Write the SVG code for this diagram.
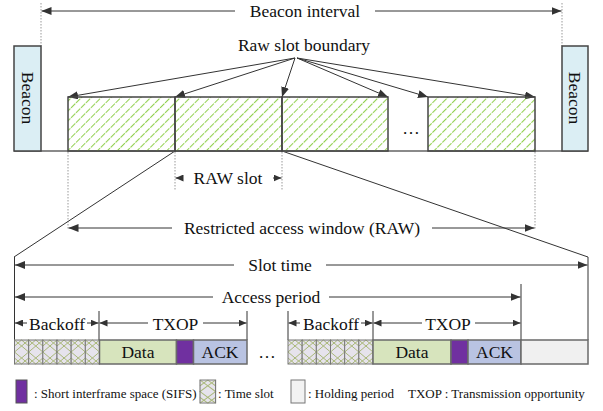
<svg xmlns="http://www.w3.org/2000/svg" width="603" height="411" viewBox="0 0 603 411">
<defs>
<style>
text{font-family:"Liberation Serif","Times New Roman",serif;fill:#111;}
.t{font-size:17.5px;text-anchor:middle;}
.lg{font-size:13px;}
.ln{stroke:#333;stroke-width:1;fill:none;}
.dot{stroke:#999;stroke-width:1;stroke-dasharray:1.5 1.5;fill:none;}
.box{stroke:#444;stroke-width:1.5;}
.row{stroke:#6a6a6a;stroke-width:1.5;}
</style>
<marker id="ah" markerUnits="userSpaceOnUse" markerWidth="10" markerHeight="8" refX="10" refY="4" orient="auto"><path d="M0,0 L10,4 L0,8 z" fill="#333"/></marker>
<marker id="as" markerUnits="userSpaceOnUse" markerWidth="8" markerHeight="7" refX="8" refY="3.5" orient="auto"><path d="M0,0 L8,3.5 L0,7 z" fill="#333"/></marker>
<pattern id="hatch" patternUnits="userSpaceOnUse" width="7" height="7" patternTransform="rotate(45)"><line x1="0.5" y1="0" x2="0.5" y2="7" stroke="#92d050" stroke-width="1.1" stroke-dasharray="5 1"/></pattern>
<g id="cell"><rect x="0" y="0" width="14.17" height="24" fill="#e6e3ec"/><path d="M0,0 L14.17,12 L0,24 M14.17,0 L0,12 L14.17,24 M7.08,0 L0,6 M7.08,0 L14.17,6 M7.08,24 L0,18 M7.08,24 L14.17,18" stroke="#a9b878" stroke-width="1" fill="none"/><rect x="0" y="0" width="14.17" height="24" fill="none" stroke="#777" stroke-width="1"/></g>
</defs>
<rect width="603" height="411" fill="#fff"/>

<g id="connectors">
<line class="dot" x1="41" y1="3" x2="41" y2="46"/>
<line class="dot" x1="562" y1="3" x2="562" y2="46"/>
<line class="ln" x1="235" y1="11" x2="41.5" y2="11" marker-end="url(#ah)"/>
<line class="ln" x1="375" y1="11" x2="561.5" y2="11" marker-end="url(#ah)"/>

<line class="ln" x1="295" y1="58" x2="68" y2="97" marker-end="url(#ah)"/>
<line class="ln" x1="295" y1="58" x2="175" y2="97" marker-end="url(#ah)"/>
<line class="ln" x1="295" y1="58" x2="282" y2="97" marker-end="url(#ah)"/>
<line class="ln" x1="297" y1="58" x2="388" y2="97" marker-end="url(#ah)"/>
<line class="ln" x1="297" y1="58" x2="428" y2="97" marker-end="url(#ah)"/>
<line class="ln" x1="297" y1="58" x2="535" y2="97" marker-end="url(#ah)"/>

<line class="dot" x1="68" y1="152" x2="68" y2="229"/>
<line class="dot" x1="175" y1="152" x2="175" y2="190"/>
<line class="dot" x1="282" y1="152" x2="282" y2="190"/>
<line class="dot" x1="535" y1="152" x2="535" y2="229"/>
<line class="ln" x1="183" y1="178" x2="175.5" y2="178" marker-end="url(#as)"/>
<line class="ln" x1="273" y1="178" x2="281.5" y2="178" marker-end="url(#as)"/>
<line class="ln" x1="172" y1="228" x2="68.5" y2="228" marker-end="url(#ah)"/>
<line class="ln" x1="432" y1="228" x2="534.5" y2="228" marker-end="url(#ah)"/>

<line class="ln" x1="175" y1="151" x2="14" y2="257"/>
<line class="ln" x1="282" y1="151" x2="588" y2="257"/>
<line class="ln" x1="14.5" y1="257" x2="14.5" y2="340"/>
<line class="ln" x1="588" y1="257" x2="588" y2="340"/>
<line class="ln" x1="234" y1="265" x2="15" y2="265" marker-end="url(#ah)"/>
<line class="ln" x1="326" y1="265" x2="587.5" y2="265" marker-end="url(#ah)"/>

<line class="ln" x1="521" y1="284" x2="521" y2="340"/>
<line class="ln" x1="213" y1="297" x2="15" y2="297" marker-end="url(#ah)"/>
<line class="ln" x1="329" y1="297" x2="520.5" y2="297" marker-end="url(#ah)"/>

<line class="ln" x1="99" y1="311" x2="99" y2="340"/>
<line class="ln" x1="247" y1="311" x2="247" y2="340"/>
<line class="ln" x1="288" y1="311" x2="288" y2="340"/>
<line class="ln" x1="373" y1="311" x2="373" y2="340"/>
<line class="ln" x1="27" y1="323" x2="15" y2="323" marker-end="url(#as)"/>
<line class="ln" x1="87" y1="323" x2="98.5" y2="323" marker-end="url(#as)"/>
<line class="ln" x1="148" y1="323" x2="99.5" y2="323" marker-end="url(#as)"/>
<line class="ln" x1="203" y1="323" x2="246.5" y2="323" marker-end="url(#as)"/>
<line class="ln" x1="300" y1="323" x2="288.5" y2="323" marker-end="url(#as)"/>
<line class="ln" x1="361" y1="323" x2="372.5" y2="323" marker-end="url(#as)"/>
<line class="ln" x1="422" y1="323" x2="373.5" y2="323" marker-end="url(#as)"/>
<line class="ln" x1="475" y1="323" x2="520.5" y2="323" marker-end="url(#as)"/>
</g>

<text class="t" x="305" y="17">Beacon interval</text>
<text class="t" x="304" y="51">Raw slot boundary</text>
<text class="t" x="228" y="184">RAW slot</text>
<text class="t" x="302" y="234">Restricted access window (RAW)</text>
<text class="t" x="280" y="271">Slot time</text>
<text class="t" x="271" y="303">Access period</text>
<text class="t" x="57" y="330">Backoff</text>
<text class="t" x="175.5" y="330">TXOP</text>
<text class="t" x="331" y="330">Backoff</text>
<text class="t" x="448" y="330">TXOP</text>

<g id="baseline"><line x1="14" y1="151" x2="588" y2="151" stroke="#8a8a8a" stroke-width="2"/></g>

<g id="beacon-left">
<rect class="box" x="14" y="46" width="27" height="105" fill="#dbeef4"/>
<text class="t" transform="translate(27.5,98) rotate(90)" dominant-baseline="central">Beacon</text>
</g>
<g id="beacon-right">
<rect class="box" x="562" y="46" width="26" height="105" fill="#dbeef4"/>
<text class="t" transform="translate(575,98) rotate(90)" dominant-baseline="central">Beacon</text>
</g>

<g id="raw-slot-1"><rect class="box" x="68" y="97" width="107" height="54" fill="url(#hatch)"/></g>
<g id="raw-slot-2"><rect class="box" x="175" y="97" width="107" height="54" fill="url(#hatch)"/></g>
<g id="raw-slot-3"><rect class="box" x="282" y="97" width="106" height="54" fill="url(#hatch)"/></g>
<g id="raw-dots"><text class="t" x="411" y="134">…</text></g>
<g id="raw-slot-4"><rect class="box" x="428" y="97" width="107" height="54" fill="url(#hatch)"/></g>

<g id="backoff-1">
<use href="#cell" x="14.5" y="340"/><use href="#cell" x="28.67" y="340"/><use href="#cell" x="42.83" y="340"/>
<use href="#cell" x="57" y="340"/><use href="#cell" x="71.17" y="340"/><use href="#cell" x="85.33" y="340"/>
</g>
<g id="data-1"><rect class="row" x="99.5" y="340" width="77" height="24" fill="#d7e4bd"/><text class="t" x="138" y="358">Data</text></g>
<g id="sifs-1"><rect class="row" x="176.5" y="340" width="17" height="24" fill="#7030a0"/></g>
<g id="ack-1"><rect class="row" x="193.5" y="340" width="53.5" height="24" fill="#b9c3e2"/><text class="t" x="220" y="358">ACK</text></g>
<g id="row-dots"><text class="t" x="267" y="358">…</text></g>
<g id="backoff-2">
<use href="#cell" x="288" y="340"/><use href="#cell" x="302.17" y="340"/><use href="#cell" x="316.33" y="340"/>
<use href="#cell" x="330.5" y="340"/><use href="#cell" x="344.67" y="340"/><use href="#cell" x="358.83" y="340"/>
</g>
<g id="data-2"><rect class="row" x="373" y="340" width="78" height="24" fill="#d7e4bd"/><text class="t" x="412" y="358">Data</text></g>
<g id="sifs-2"><rect class="row" x="451" y="340" width="17" height="24" fill="#7030a0"/></g>
<g id="ack-2"><rect class="row" x="468" y="340" width="53" height="24" fill="#b9c3e2"/><text class="t" x="494.5" y="358">ACK</text></g>
<g id="holding"><rect class="row" x="521" y="340" width="67" height="24" fill="#f0f0f0"/></g>

<g id="legend">
<rect x="16" y="380" width="11" height="23" fill="#7030a0" stroke="#555" stroke-width="1"/>
<text class="lg" x="34" y="398">: Short interframe space (SIFS)</text>
<g transform="translate(200,380) scale(1.1,0.96)"><use href="#cell"/></g>
<text class="lg" x="218" y="398">: Time slot</text>
<rect x="291" y="380" width="14" height="23" fill="#f2f2f2" stroke="#777" stroke-width="1"/>
<text class="lg" x="308" y="398">: Holding period</text>
<text class="lg" x="408" y="398">TXOP : Transmission opportunity</text>
</g>
</svg>
